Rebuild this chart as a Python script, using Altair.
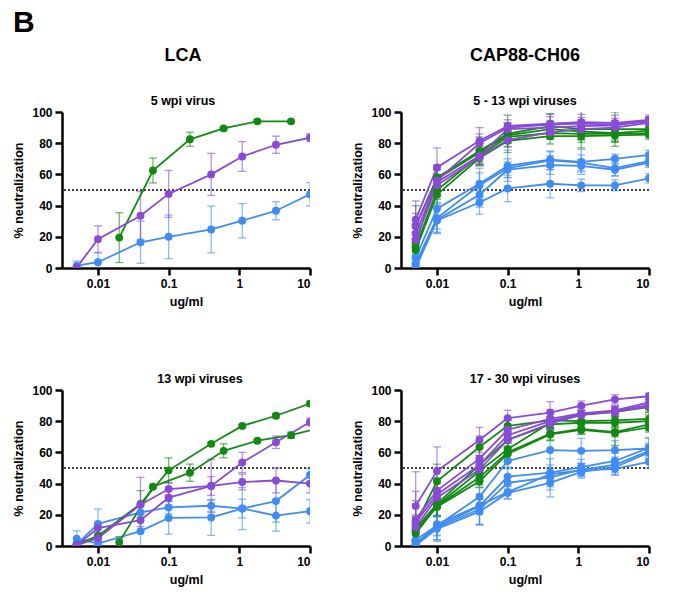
import altair as alt
import pandas as pd

FONT = "Liberation Sans, Arial, Helvetica, sans-serif"

# concentrations (ug/ml)
X_STD = [0.005, 0.01, 0.04, 0.1, 0.4, 1.1, 3.3, 10]
X_3F = [0.02, 0.06, 0.2, 0.6, 1.8, 5.4]
X_3F_EXT = [0.02, 0.06, 0.2, 0.6, 1.8, 5.4, 16.2]

GROUPS = ["blue", "green", "purple"]
COLORS = ["#3f8cf7", "#128a12", "#8a49d6"]

# ---- LCA, 5 wpi virus ----
tl_blue_y = [1.5, 3.7, 16.5, 20, 24.7, 30.3, 36.7, 47.3]
tl_blue_e = [3, 6, 13.5, 14, 15, 11, 5.8, 7.5]
tl_green_y = [19.5, 62.5, 82.5, 89.5, 94, 94]
tl_green_e = [16, 8, 4.5, 1, 0.8, 0.8]
tl_purple_y = [0.3, 18.5, 33.5, 47.5, 60, 71.5, 79, 83.5]
tl_purple_e = [0.5, 8.5, 15.5, 15, 13.5, 9.5, 5.5, 2.5]

# ---- CAP88-CH06, 5 - 13 wpi viruses ----
tr_blue_y = [[6.5, 38, 54, 65.5, 69.5, 68, 70, 72.5],
             [3, 32, 53, 64, 69, 67.5, 64, 68.5],
             [1, 31, 47, 63, 66, 65.5, 63, 67.5],
             [0, 30.5, 42, 51, 54, 53, 53, 57.5]]
tr_blue_e = [[4, 13, 10, 10, 5, 8, 3, 3],
             [3, 10, 8, 6, 6, 5, 5, 3],
             [2, 8, 8, 5, 6, 4, 4, 3],
             [1.5, 8, 7.5, 8.5, 9, 4, 3.5, 3]]
tr_green_y = [[27, 58, 75, 86, 91, 89, 89, 89],
              [16, 57, 74, 85, 89, 87.5, 86.5, 88],
              [13, 50, 72, 84, 86.5, 86, 86, 86.5],
              [11.5, 47, 70.5, 81.5, 84.5, 84.5, 85, 85.5]]
tr_green_e = [[13, 7, 9, 12, 8, 12, 11, 4],
              [7, 6, 6, 5, 5, 5, 6, 3],
              [5, 6, 5, 4, 4, 4, 4, 3],
              [5, 6, 5, 4, 5, 4, 4, 3]]
tr_purple_y = [[31, 64.5, 81.5, 91, 92.5, 93.5, 93, 95],
               [27, 56, 80, 90, 92, 92.5, 92, 94.5],
               [22, 55, 72, 89, 90, 91, 91.5, 94],
               [18, 53, 71, 82, 87, 89, 90, 93]]
tr_purple_e = [[12, 12.5, 8.5, 4, 6, 5, 5, 3],
               [8, 10, 6, 3, 5, 4, 4, 2.5],
               [6, 8, 6, 4, 4, 4, 3, 2.5],
               [5, 7, 5, 4, 3, 3, 3, 3]]

# ---- LCA, 13 wpi viruses ----
bl_blue_y = [[4.7, 1.5, 9.5, 18, 18.3, 24, 28.8, 45.5],
             [1, 14.2, 21.5, 24.7, 25.8, 24, 19.5, 22.3]]
bl_blue_e = [[5, 2, 12, 10.5, 11.5, 13.5, 13.5, 4],
             [1, 9.5, 5, 4, 3.5, 6, 10, 7.5]]
bl_green_a_y = [1, 6.5, 27, 48.5, 65.5, 77, 83.5, 91.3]
bl_green_a_e = [1, 1, 8.5, 8, 1, 1, 1.5, 1.5]
bl_green_b_y = [2.5, 38, 47, 61, 67.5, 71, 76.5]
bl_green_b_e = [3.5, 1, 5.5, 4.5, 1, 2, 1]
bl_purple_y = [[0.3, 11.5, 16.5, 31, 38.5, 53.5, 66.5, 79.5],
               [0.5, 5, 26.5, 36.5, 38.5, 41, 42, 40]]
bl_purple_e = [[0.5, 3, 4, 5, 17, 6.5, 4, 2.5],
               [0.5, 2, 17.5, 4, 6, 5, 8, 6]]

# ---- CAP88-CH06, 17 - 30 wpi viruses ----
br_blue_y = [[4, 13, 31.5, 54.5, 61.5, 61, 61.5, 62.5],
             [2, 12.5, 25.5, 44.5, 47, 50.5, 54.5, 63],
             [1, 12, 23.5, 40.5, 44, 49, 52, 61],
             [0.5, 11, 22, 34, 40.5, 47.5, 50.5, 60],
             [0, 14, 26, 34.5, 46, 48.5, 49.5, 54]]
br_blue_e = [[3, 6, 6, 4, 16, 8, 6, 7],
             [2, 6, 12, 5, 9, 5, 5, 6],
             [1, 8, 10, 4, 8, 4, 5, 5],
             [1, 8, 8, 4, 9, 4, 5, 5],
             [1, 10, 4, 4, 4, 4, 4, 4]]
br_green_y = [[14, 41.5, 63.5, 77, 80.5, 80, 80.5, 81.5],
              [11, 27, 52, 68, 78, 79, 79, 80],
              [9.5, 26, 48, 62, 79, 84, 86, 89],
              [8, 25.5, 44, 60, 72, 75, 73, 78],
              [10, 25, 41.5, 59, 71.5, 74.5, 72.5, 76]]
br_green_e = [[15, 11, 7, 4, 5, 4, 4, 4],
              [8, 8, 6, 5, 4, 4, 4, 4],
              [6, 7, 6, 6, 4, 3, 3, 3],
              [5, 6, 5, 6, 4, 3, 3, 4],
              [6, 6, 4, 5, 4, 3, 8, 3]]
br_purple_y = [[25.6, 48, 68, 82, 85.5, 90, 94, 96],
               [17, 35.5, 56, 74.5, 81.5, 85, 87, 92],
               [15, 33, 52, 71, 80, 84.5, 86.5, 90.5],
               [12, 31, 49, 68, 78.5, 84, 86, 89.5]]
br_purple_e = [[22, 15.5, 8, 5, 7, 3, 3, 2],
               [18, 8, 7, 6, 6, 4, 3, 2],
               [12, 7, 6, 5, 5, 4, 3, 2],
               [8, 6, 6, 5, 4, 3, 3, 2]]


def series_list(group, xs, ys_list, es_list):
    return [(group, xs, ys, es) for ys, es in zip(ys_list, es_list)]


xscale = alt.Scale(type="log", domain=[0.0031, 10], nice=False)
yscale = alt.Scale(domain=[0, 100], nice=False)
xaxis = alt.Axis(values=[0.01, 0.1, 1, 10], format="~g", title="ug/ml")
yaxis = alt.Axis(values=[0, 20, 40, 60, 80, 100], title="% neutralization")
color = alt.Color("g:N", scale=alt.Scale(domain=GROUPS, range=COLORS), legend=None)


def panel(series, title):
    rows = []
    for i, (grp, xs, ys, es) in enumerate(series):
        for x, y, e in zip(xs, ys, es):
            rows.append(dict(s=f"{grp}{i}", g=grp, x=x, y=y, lo=y - e, hi=y + e))
    df = pd.DataFrame(rows)
    base = alt.Chart(df)
    X = alt.X("x:Q", scale=xscale, axis=xaxis)
    ref = alt.Chart(pd.DataFrame({"v": [50]})).mark_rule(
        strokeDash=[2, 2], strokeWidth=1.3, color="black"
    ).encode(y=alt.Y("v:Q", scale=yscale, axis=yaxis))
    err = base.mark_errorbar(ticks=True, size=8, thickness=1.3, opacity=0.6, clip=True).encode(
        x=X, y=alt.Y("lo:Q", scale=yscale, axis=yaxis), y2="hi:Q", color=color
    )
    line = base.mark_line(strokeWidth=1.8, clip=True).encode(
        x=X, y=alt.Y("y:Q", scale=yscale, axis=yaxis), color=color, detail="s:N", order="x:Q"
    )
    pts = base.mark_circle(size=62, opacity=1, clip=True).encode(
        x=X, y=alt.Y("y:Q", scale=yscale, axis=yaxis), color=color, detail="s:N"
    )
    return alt.layer(ref, err, line, pts).properties(width=248, height=156, title=title)


tl_series = [("blue", X_STD, tl_blue_y, tl_blue_e),
             ("green", X_3F, tl_green_y, tl_green_e),
             ("purple", X_STD, tl_purple_y, tl_purple_e)]
tr_series = (series_list("blue", X_STD, tr_blue_y, tr_blue_e)
             + series_list("green", X_STD, tr_green_y, tr_green_e)
             + series_list("purple", X_STD, tr_purple_y, tr_purple_e))
bl_series = (series_list("blue", X_STD, bl_blue_y, bl_blue_e)
             + [("green", X_STD, bl_green_a_y, bl_green_a_e),
                ("green", X_3F_EXT, bl_green_b_y, bl_green_b_e)]
             + series_list("purple", X_STD, bl_purple_y, bl_purple_e))
br_series = (series_list("blue", X_STD, br_blue_y, br_blue_e)
             + series_list("green", X_STD, br_green_y, br_green_e)
             + series_list("purple", X_STD, br_purple_y, br_purple_e))


def top_title(main, sub, dx=0):
    return alt.Title(main, subtitle=sub, fontSize=18, subtitleFontSize=12.5,
                     fontWeight="bold", subtitleFontWeight="bold",
                     font=FONT, subtitleFont=FONT, color="black", subtitleColor="black",
                     subtitlePadding=30, offset=-1, anchor="middle", dx=dx)


def bottom_title(text, dx=0):
    return alt.Title(text, fontSize=12.5, fontWeight="bold", font=FONT, color="black",
                     offset=-1, anchor="middle", dx=dx)


tl = panel(tl_series, top_title("LCA", "5 wpi virus", dx=-3))
tr = panel(tr_series, top_title("CAP88-CH06", "5 - 13 wpi viruses"))
bl = panel(bl_series, bottom_title("13 wpi viruses", dx=14))
br = panel(br_series, bottom_title("17 - 30 wpi viruses"))

chart = alt.concat(
    tl, tr, bl, br, columns=2, spacing={"row": 122, "column": 91}, bounds="flush"
).properties(
    title=alt.Title("B", anchor="start", frame="bounds", fontSize=30, fontWeight="bold",
                    font=FONT, color="black", offset=9),
    padding={"left": 12, "top": 7, "right": 5, "bottom": 5},
).configure_view(stroke=None).configure_axis(
    grid=False, domainColor="black", domainWidth=2.5, tickColor="black", tickWidth=2.5,
    tickSize=7, labelFont=FONT, labelFontSize=12, labelFontWeight="bold", labelColor="black",
    labelPadding=3, titleFont=FONT, titleFontSize=12.5, titleFontWeight="bold",
    titleColor="black", titlePadding=6,
)

chart.save("out.html", embed_options={"renderer": "svg", "actions": False})
